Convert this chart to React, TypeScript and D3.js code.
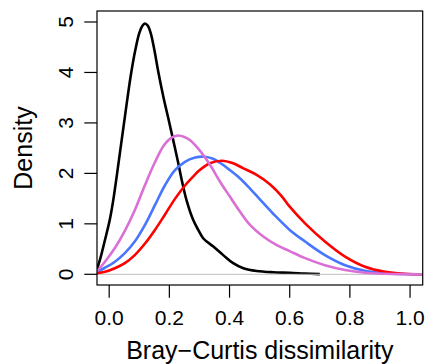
import React from "react";
import * as d3 from "d3";

const xTicks = [0, 0.2, 0.4, 0.6, 0.8, 1.0];
const yTicks = [0, 1, 2, 3, 4, 5];

const blackX = [-0.045, -0.04, -0.031, -0.014, 0.002, 0.013, 0.024, 0.036, 0.054, 0.072, 0.087, 0.1, 0.11, 0.119, 0.128, 0.138, 0.15, 0.163, 0.18, 0.2, 0.215, 0.229, 0.24, 0.257, 0.279, 0.296, 0.313, 0.346, 0.379, 0.412, 0.446, 0.49, 0.545, 0.6, 0.65, 0.7];
const blackY = [0.05, 0.12, 0.28, 0.68, 1.08, 1.45, 1.9, 2.42, 3.2, 3.95, 4.45, 4.78, 4.92, 4.97, 4.93, 4.78, 4.45, 4.02, 3.52, 3.0, 2.6, 2.22, 1.9, 1.47, 1.08, 0.88, 0.71, 0.55, 0.38, 0.22, 0.12, 0.065, 0.04, 0.03, 0.015, 0.003];

const pinkX = [-0.045, -0.04, -0.014, 0.019, 0.052, 0.085, 0.119, 0.152, 0.18, 0.205, 0.229, 0.25, 0.268, 0.3, 0.335, 0.368, 0.4, 0.435, 0.468, 0.512, 0.557, 0.6, 0.651, 0.717, 0.784, 0.85, 0.917, 0.98, 1.05];
const pinkY = [0.05, 0.07, 0.25, 0.52, 0.86, 1.27, 1.77, 2.22, 2.54, 2.7, 2.75, 2.72, 2.66, 2.46, 2.17, 1.84, 1.55, 1.24, 0.98, 0.75, 0.58, 0.46, 0.32, 0.18, 0.085, 0.03, 0.01, 0.003, 0];

const blueX = [-0.045, -0.04, -0.014, 0.019, 0.052, 0.085, 0.119, 0.152, 0.185, 0.218, 0.252, 0.283, 0.317, 0.345, 0.368, 0.4, 0.435, 0.468, 0.5, 0.545, 0.6, 0.651, 0.717, 0.784, 0.85, 0.917, 0.98, 1.05];
const blueY = [0.04, 0.05, 0.13, 0.25, 0.42, 0.65, 0.98, 1.37, 1.76, 2.06, 2.23, 2.31, 2.33, 2.29, 2.21, 2.07, 1.9, 1.7, 1.49, 1.2, 0.88, 0.65, 0.38, 0.18, 0.07, 0.02, 0.005, 0];

const redX = [-0.045, -0.04, -0.014, 0.019, 0.052, 0.085, 0.119, 0.152, 0.185, 0.218, 0.252, 0.283, 0.3, 0.335, 0.374, 0.412, 0.446, 0.49, 0.535, 0.573, 0.6, 0.651, 0.717, 0.784, 0.85, 0.917, 0.98, 1.05];
const redY = [0.01, 0.02, 0.05, 0.12, 0.22, 0.38, 0.61, 0.88, 1.18, 1.49, 1.76, 1.96, 2.06, 2.2, 2.25, 2.2, 2.1, 1.97, 1.78, 1.55, 1.34, 1.01, 0.65, 0.35, 0.15, 0.05, 0.012, 0.002];

const W = 425;
const H = 364;
const L = 97, R = 422.7, T = 11, B = 285;

export default function App() {
  const x = d3.scaleLinear().domain([-0.0405, 1.042]).range([L, R]);
  const y = d3.scaleLinear().domain([-0.212, 5.218]).range([B, T]);
  const line = d3
    .line<[number, number]>()
    .x((d) => x(d[0]))
    .y((d) => y(d[1]))
    .curve(d3.curveCatmullRom.alpha(0.5));
  const mk = (xs: number[], ys: number[]) => line(xs.map((v, i) => [v, ys[i]] as [number, number])) || "";
  const font = "'Liberation Sans', Arial, Helvetica, sans-serif";
  const tick = 12.7;
  const lw = 2.6;

  return (
    <svg width={W} height={H} style={{ position: "absolute", left: 0, top: 0, background: "#fff" }} fontFamily={font}>
      <defs>
        <clipPath id="plotclip">
          <rect x={L} y={T} width={R - L} height={B - T} />
        </clipPath>
      </defs>
      <g clipPath="url(#plotclip)">
        <path d={mk(blackX, blackY)} fill="none" stroke="#000" strokeWidth={lw} strokeLinejoin="round" />
        <line x1={L} x2={R} y1={y(0)} y2={y(0)} stroke="#BEBEBE" strokeWidth={1} />
        <path d={mk(blueX, blueY)} fill="none" stroke="#4876FF" strokeWidth={lw} strokeLinejoin="round" />
        <path d={mk(redX, redY)} fill="none" stroke="#FF0000" strokeWidth={lw} strokeLinejoin="round" />
        <path d={mk(pinkX, pinkY)} fill="none" stroke="#DA70D6" strokeWidth={lw} strokeLinejoin="round" />
      </g>
      <rect x={L} y={T} width={R - L} height={B - T} fill="none" stroke="#000" strokeWidth={1.2} />
      {xTicks.map((t) => (
        <g key={"x" + t}>
          <line x1={x(t)} x2={x(t)} y1={B} y2={B + tick} stroke="#000" strokeWidth={1.2} />
          <text x={x(t)} y={325} textAnchor="middle" fontSize={21} fill="#000">
            {d3.format(".1f")(t)}
          </text>
        </g>
      ))}
      {yTicks.map((t) => (
        <g key={"y" + t}>
          <line x1={L} x2={L - tick} y1={y(t)} y2={y(t)} stroke="#000" strokeWidth={1.2} />
          <text transform={`translate(72.5,${y(t)}) rotate(-90)`} textAnchor="middle" fontSize={21} fill="#000">
            {String(t)}
          </text>
        </g>
      ))}
      <text x={(L + R) / 2} y={359} textAnchor="middle" fontSize={25} fill="#000">
        Bray−Curtis dissimilarity
      </text>
      <text transform={`translate(31.5,${(T + B) / 2}) rotate(-90)`} textAnchor="middle" fontSize={25} fill="#000">
        Density
      </text>
    </svg>
  );
}
